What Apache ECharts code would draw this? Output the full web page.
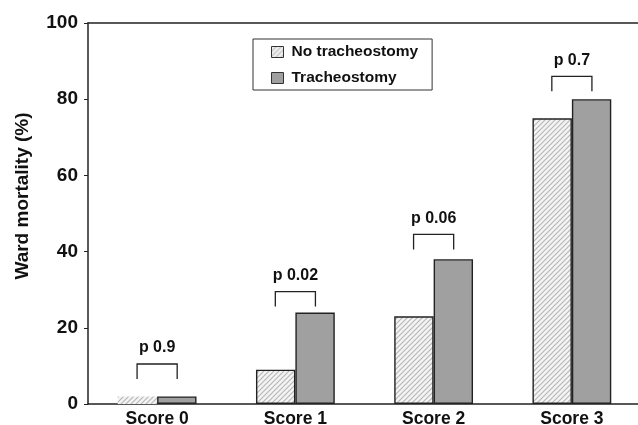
<!DOCTYPE html>
<html>
<head>
<meta charset="utf-8">
<script src="https://cdn.jsdelivr.net/npm/echarts@6/dist/echarts.min.js"></script>
<style>
  html, body { margin: 0; padding: 0; background: #fff; }
  #chart { width: 638px; height: 425px; }
</style>
</head>
<body>
<div id="chart"></div>
<script>
// data
const categories = ['Score 0', 'Score 1', 'Score 2', 'Score 3']
const noTrach = [2, 9, 23, 75]
const trach = [2, 24, 38, 80]
const pLabels = ['p 0.9', 'p 0.02', 'p 0.06', 'p 0.7']
const bracketTop = [10.5, 29.5, 44.5, 86]
const yTicks = [0, 20, 40, 60, 80, 100]

const FONT = '"Liberation Sans", Arial, sans-serif'

// diagonal hatch tile for "No tracheostomy"
function hatch() {
  const c = document.createElement('canvas')
  c.width = 5
  c.height = 5
  const g = c.getContext('2d')
  g.fillStyle = '#f4f4f4'
  g.fillRect(0, 0, 5, 5)
  g.strokeStyle = '#b8b8b8'
  g.lineWidth = 1.2
  g.beginPath()
  g.moveTo(-1, 6); g.lineTo(6, -1)
  g.moveTo(-1, 1); g.lineTo(1, -1)
  g.moveTo(4, 6); g.lineTo(6, 4)
  g.stroke()
  return c
}
const hatchFill = { image: hatch(), repeat: 'repeat' }

const chart = echarts.init(document.getElementById('chart'))

chart.setOption({
  animation: false,
  textStyle: { fontFamily: FONT },
  grid: { left: 88, right: -3, top: 23, bottom: 21, outerBoundsMode: 'none', containLabel: false },
  legend: {
    orient: 'vertical',
    left: 253,
    top: 39,
    padding: [5, 14, 4, 18],
    itemGap: 10,
    itemWidth: 12,
    itemHeight: 11,
    icon: 'rect',
    borderColor: '#333',
    borderWidth: 1,
    borderRadius: 0,
    textStyle: { fontFamily: FONT, fontWeight: 'bold', fontSize: 15.5, color: '#111', padding: [0, 0, 0, 3] },
    data: [
      { name: 'No tracheostomy', itemStyle: { color: hatchFill, borderColor: '#333', borderWidth: 1 } },
      { name: 'Tracheostomy', itemStyle: { color: '#a0a0a0', borderColor: '#333', borderWidth: 1 } }
    ]
  },
  xAxis: [
    {
      type: 'category',
      data: categories,
      axisLine: { lineStyle: { color: '#222', width: 1.5 } },
      axisTick: { show: false },
      axisLabel: { color: '#111', fontWeight: 'bold', fontSize: 17.5, fontFamily: FONT, margin: 6 }
    },
    {
      type: 'category',
      data: categories,
      position: 'top',
      axisLine: { lineStyle: { color: '#222', width: 1.5 } },
      axisTick: { show: false },
      axisLabel: { show: false }
    }
  ],
  yAxis: {
    type: 'value',
    min: yTicks[0],
    max: yTicks[yTicks.length - 1],
    interval: 20,
    name: 'Ward mortality (%)',
    nameLocation: 'middle',
    nameGap: 56,
    nameTextStyle: { color: '#111', fontWeight: 'bold', fontSize: 19, fontFamily: FONT, padding: [0, 0, 0, 35] },
    axisLine: { show: true, lineStyle: { color: '#222', width: 1.5 } },
    axisTick: { show: true, length: 4, lineStyle: { color: '#222' } },
    axisLabel: { color: '#111', fontWeight: 'bold', fontSize: 19, fontFamily: FONT, margin: 10 },
    splitLine: { show: false }
  },
  series: [
    {
      name: 'No tracheostomy',
      type: 'bar',
      barGap: '0%',
      barCategoryGap: '43%',
      itemStyle: { color: hatchFill, borderColor: '#222', borderWidth: 1.4 },
      data: noTrach.map((v, i) => i === 0 ? { value: v, itemStyle: { borderWidth: 0 } } : v)
    },
    {
      name: 'Tracheostomy',
      type: 'bar',
      itemStyle: { color: '#a0a0a0', borderColor: '#222', borderWidth: 1.4 },
      data: trach
    },
    {
      type: 'custom',
      silent: true,
      z: 5,
      data: bracketTop.map((v, i) => [i, v]),
      renderItem: (params, api) => {
        const p = api.coord([api.value(0), api.value(1)])
        const band = api.size([1, 0])[0]
        const off = band * 0.145
        const x0 = p[0] - off
        const x1 = p[0] + off
        const leg = 15
        return {
          type: 'group',
          children: [
            {
              type: 'polyline',
              shape: { points: [[x0, p[1] + leg], [x0, p[1]], [x1, p[1]], [x1, p[1] + leg]] },
              style: { stroke: '#222', lineWidth: 1.3, fill: null }
            },
            {
              type: 'text',
              x: p[0],
              y: p[1] - 16,
              style: {
                text: pLabels[params.dataIndex],
                textAlign: 'center',
                textVerticalAlign: 'middle',
                fill: '#111',
                font: 'bold 16px ' + FONT
              }
            }
          ]
        }
      }
    }
  ]
})
</script>
</body>
</html>
